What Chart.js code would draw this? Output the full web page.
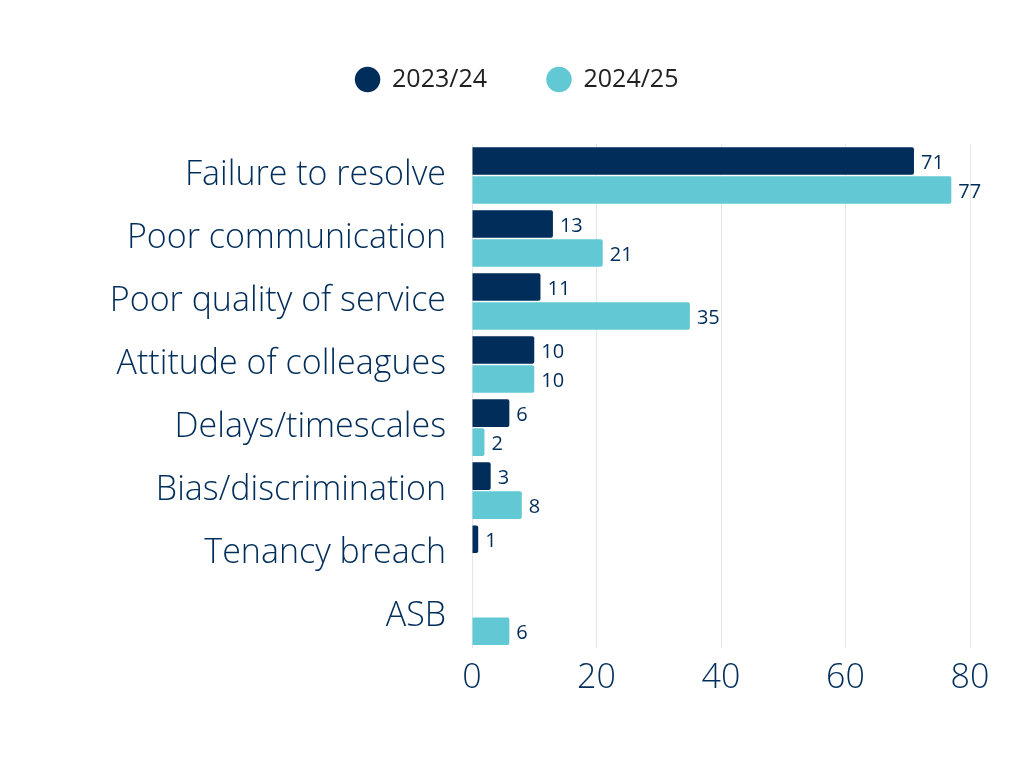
<!DOCTYPE html>
<html>
<head>
<meta charset="utf-8">
<script src="https://cdn.jsdelivr.net/npm/chart.js@4"></script>
<style>
  html, body { margin: 0; padding: 0; background: #fff; }
  #wrap { width: 1024px; height: 768px; }
</style>
</head>
<body>
<div id="wrap"><canvas id="complaintsChart" width="1024" height="768"></canvas></div>
<script>
const categories = ["Failure to resolve", "Poor communication", "Poor quality of service", "Attitude of colleagues", "Delays/timescales", "Bias/discrimination", "Tenancy breach", "ASB"];
const series2023 = [71, 13, 11, 10, 6, 3, 1, null];
const series2024 = [77, 21, 35, 10, 2, 8, null, 6];
const xTicks = [0, 20, 40, 60, 80];

const navy = "#002D5A";
const teal = "#62C9D4";

// draws the value at the end of each bar
const barLabels = {
    id: "barLabels",
    afterDatasetsDraw(chart) {
        const ctx = chart.ctx;
        ctx.save();
        ctx.font = "20px 'Open Sans'";
        ctx.fillStyle = navy;
        ctx.textBaseline = "middle";
        ctx.textAlign = "left";
        chart.data.datasets.forEach((ds, i) => {
            chart.getDatasetMeta(i).data.forEach((bar, j) => {
                const v = ds.data[j];
                if (v === null || v === undefined) return;
                ctx.fillText(String(v), bar.x + 7, bar.y + 2);
            });
        });
        ctx.restore();
    }
};

// extra room under the legend, and centre it on the page
const legendGap = {
    id: "legendGap",
    beforeInit(chart) {
        const fit = chart.legend.fit;
        chart.legend.fit = function () {
            fit.bind(chart.legend)();
            this.height += 42;
        };
    },
    afterLayout(chart) {
        chart.legend.left += 32;
        chart.legend.right += 32;
    }
};

const ctx = document.getElementById("complaintsChart").getContext("2d");
new Chart(ctx, {
    type: "bar",
    data: {
        labels: categories,
        datasets: [
            { label: "2023/24", data: series2023, backgroundColor: navy, borderRadius: 2, categoryPercentage: 0.92, barPercentage: 0.95 },
            { label: "2024/25", data: series2024, backgroundColor: teal, borderRadius: 2, categoryPercentage: 0.92, barPercentage: 0.95 }
        ]
    },
    options: {
        indexAxis: "y",
        responsive: false,
        animation: false,
        layout: { padding: { left: 0, right: 54, top: 7, bottom: 59 } },
        plugins: {
            legend: {
                position: "top",
                labels: {
                    usePointStyle: true,
                    pointStyle: "circle",
                    boxWidth: 24,
                    boxHeight: 18,
                    padding: 60,
                    color: "#222",
                    font: { family: "'Open Sans'", size: 25 }
                }
            },
            tooltip: { enabled: false }
        },
        scales: {
            x: {
                min: 0,
                max: 80,
                afterBuildTicks(axis) { axis.ticks = xTicks.map(v => ({ value: v })); },
                grid: { color: "#e3e6ea", drawTicks: false },
                border: { display: false },
                ticks: { color: navy, padding: 10, font: { family: "'Open Sans'", size: 34, weight: 300 } }
            },
            y: {
                afterFit(axis) { axis.width = 472; },
                grid: { display: false },
                border: { display: false },
                ticks: { color: navy, padding: 18, font: { family: "'Open Sans'", size: 34, weight: 300 } }
            }
        }
    },
    plugins: [barLabels, legendGap]
});
</script>
</body>
</html>
